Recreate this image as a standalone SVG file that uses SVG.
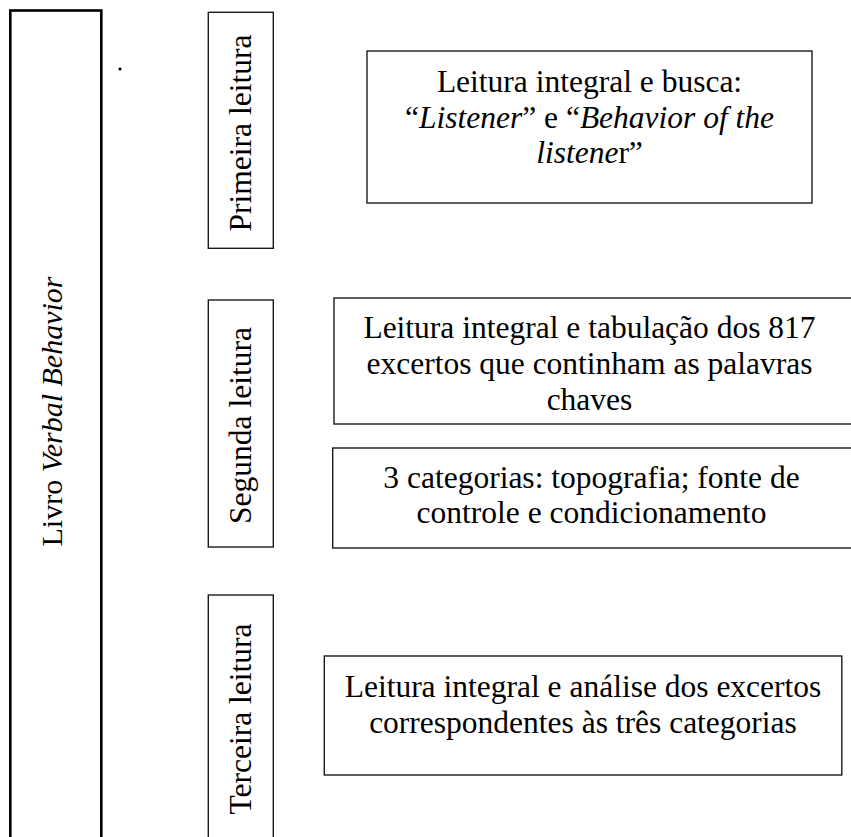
<svg xmlns="http://www.w3.org/2000/svg" width="851" height="837" viewBox="0 0 851 837">
<style>
.box{fill:#fff;stroke:#1a1a1a;stroke-width:1.4}
.main{fill:#fff;stroke:#000;stroke-width:2.6}
text{font-family:"Liberation Serif","Times New Roman",serif;fill:#000;font-size:31.5px;text-anchor:middle}
.v{font-size:31.5px}
.lv{font-size:30px}
.i{font-style:italic}
</style>
<rect width="851" height="837" fill="#fff"/>
<g id="livro">
<rect class="main" x="10.3" y="10.5" width="91" height="840"/>
<text class="lv" transform="translate(62,411.5) rotate(-90)">Livro <tspan class="i">Verbal Behavior</tspan></text>
</g>
<circle cx="120" cy="69" r="1.6" fill="#000"/>
<g id="primeira">
<rect class="box" x="208.3" y="12.3" width="65" height="236"/>
<text class="v" transform="translate(251,133) rotate(-90)">Primeira leitura</text>
</g>
<g id="segunda">
<rect class="box" x="208.3" y="300" width="65" height="247"/>
<text class="v" transform="translate(251,425.5) rotate(-90)">Segunda leitura</text>
</g>
<g id="terceira">
<rect class="box" x="208.3" y="595" width="65" height="260"/>
<text class="v" transform="translate(251,719) rotate(-90)">Terceira leitura</text>
</g>
<g id="busca">
<rect class="box" x="367" y="51" width="445" height="152"/>
<text x="589.5" y="92">Leitura integral e busca:</text>
<text x="589.5" y="127.5">“<tspan class="i">Listener</tspan>” e “<tspan class="i">Behavior of the</tspan></text>
<text x="589.5" y="163"><tspan class="i">listene</tspan>r”</text>
</g>
<g id="tabulacao">
<rect class="box" x="334" y="298" width="530" height="126"/>
<text x="589.5" y="338">Leitura integral e tabulação dos 817</text>
<text x="589.5" y="374">excertos que continham as palavras</text>
<text x="589.5" y="410">chaves</text>
</g>
<g id="categorias">
<rect class="box" x="332.7" y="448" width="530" height="100"/>
<text x="591.5" y="488">3 categorias: topografia; fonte de</text>
<text x="591.5" y="523">controle e condicionamento</text>
</g>
<g id="analise">
<rect class="box" x="324.3" y="656" width="517.5" height="119"/>
<text x="583" y="697">Leitura integral e análise dos excertos</text>
<text x="583" y="733">correspondentes às três categorias</text>
</g>
<g id="connectors"></g>
</svg>
